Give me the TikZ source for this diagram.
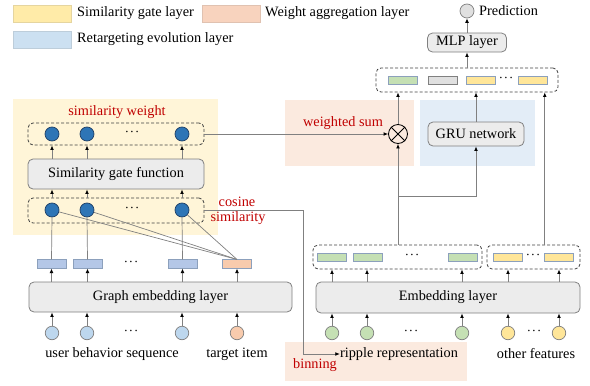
\documentclass[tikz,border=0pt]{standalone}
\usepackage{amsmath}
\usepackage{fontspec}
\setmainfont{Liberation Serif}
\usetikzlibrary{arrows.meta,calc}
\definecolor{lyel}{HTML}{FFEBA8}
\definecolor{lora}{HTML}{F8D3BE}
\definecolor{lblu}{HTML}{CCE0F1}
\definecolor{bgyel}{HTML}{FFF5D8}
\definecolor{bgora}{HTML}{FBEADF}
\definecolor{bgblu}{HTML}{E3EDF7}
\definecolor{redt}{HTML}{C00000}
\definecolor{lnc}{HTML}{808080}
\definecolor{dblue}{HTML}{2E75B6}
\definecolor{dbord}{HTML}{1F3F66}
\definecolor{cblue}{HTML}{BDD7EE}
\definecolor{corg}{HTML}{F8CBAD}
\definecolor{cgrn}{HTML}{C5E0B4}
\definecolor{cyel}{HTML}{FFE699}
\definecolor{rblue}{HTML}{B4C7E7}
\definecolor{rgray}{HTML}{E0E0E0}
\definecolor{boxf}{HTML}{ECECEC}
\definecolor{rbord}{HTML}{8CA0BC}
\newcommand\myfs{\fontsize{14.3pt}{16pt}\selectfont}
\newcommand\mydots{{\fontsize{10pt}{10pt}\selectfont$\boldsymbol{\cdots}$}}
\tikzset{
  every node/.style={font=\myfs},
  arr/.style={draw=lnc, line width=0.8pt, -{Latex[length=4.5pt,width=3.8pt,color=black]}},
  pl/.style={draw=lnc, line width=0.7pt},
  dbox/.style={draw=black!75, dashed, dash pattern=on 3pt off 2pt, rounded corners=5pt, line width=0.8pt, inner sep=0pt},
  gbox/.style={draw=lnc, fill=boxf, rounded corners=5pt, line width=0.8pt, inner sep=0pt},
  swatch/.style={fill=#1, draw=#1!80!gray, line width=0.4pt, minimum width=58pt, minimum height=17pt, inner sep=0pt},
  bg/.style={fill=#1, draw=none, inner sep=0pt},
  bc/.style={circle, fill=dblue, draw=dbord, line width=0.7pt, minimum size=14pt, inner sep=0pt},
  lc/.style={circle, fill=#1, draw=lnc, line width=0.7pt, minimum size=13.5pt, inner sep=0pt},
  rc/.style={rectangle, fill=#1, draw=rbord, line width=0.6pt, minimum width=29pt, minimum height=8.5pt, inner sep=0pt},
  redlab/.style={text=redt, inner sep=0pt},
  dots/.style={inner sep=0pt}
}
\begin{document}
\begin{tikzpicture}[x=1pt,y=-1pt]
\useasboundingbox (0,0) rectangle (590,386);
% legend
\node[swatch=lyel] (lgy) at (42,13.5) {};
\node[anchor=west, inner sep=0pt] (lgyt) at (77,13.5) {Similarity gate layer};
\node[swatch=lora] (lgo) at (231,13.5) {};
\node[anchor=west, inner sep=0pt] (lgot) at (265,13.5) {Weight aggregation layer};
\node[swatch=lblu] (lgb) at (42,39.5) {};
\node[anchor=west, inner sep=0pt] (lgbt) at (77,39.5) {Retargeting evolution layer};
% backgrounds
\node[bg=bgyel, minimum width=205pt, minimum height=136pt] (bgy) at (115.5,167) {};
\node[bg=bgora, minimum width=129pt, minimum height=66pt] (bgo) at (349.5,133) {};
\node[bg=bgblu, minimum width=115pt, minimum height=66pt] (bgb) at (477.5,133) {};
\node[bg=bgora, minimum width=182pt, minimum height=39pt] (bgbin) at (376,361.5) {};
% similarity gate
\node[redlab] (swl) at (117,112) {similarity weight};
\node[dbox, minimum width=176pt, minimum height=22pt] (sw) at (116,134) {};
\node[bc] (s1) at (52,134) {};
\node[bc] (s2) at (87,134) {};
\node[bc] (s3) at (182,134) {};
\node[dots] (sd) at (133,132) {\mydots};
\node[gbox, minimum width=176pt, minimum height=30pt] (gate) at (116,174) {Similarity gate function};
\node[dbox, minimum width=176pt, minimum height=25pt] (cs) at (116,210.5) {};
\node[bc] (c1) at (52,210) {};
\node[bc] (c2) at (87,210) {};
\node[bc] (c3) at (182,210) {};
\node[dots] (cd) at (133,208) {\mydots};
\node[redlab] (cosl1) at (237,202) {cosine};
\node[redlab] (cosl2) at (238,218) {similarity};
% graph embedding
\node[rc=rblue] (e1) at (51.5,264) {};
\node[rc=rblue] (e2) at (87.5,264) {};
\node[rc=rblue] (e3) at (182.5,264) {};
\node[rc=corg] (et) at (237,264) {};
\node[dots] (ed) at (132,262) {\mydots};
\node[gbox, minimum width=263pt, minimum height=30pt] (gel) at (160.5,297) {Graph embedding layer};
\node[lc=cblue] (u1) at (52,333) {};
\node[lc=cblue] (u2) at (87,333) {};
\node[lc=cblue] (u3) at (182,333) {};
\node[lc=corg] (tg) at (237,333) {};
\node[dots] (ud) at (132,331) {\mydots};
\node[inner sep=0pt] (ubs) at (112,354) {user behavior sequence};
\node[inner sep=0pt] (tit) at (237,354) {target item};
% embedding layer (right)
\node[gbox, minimum width=264pt, minimum height=31pt] (el) at (448,297.5) {Embedding layer};
\node[lc=cgrn] (g1) at (332,333) {};
\node[lc=cgrn] (g2) at (367,333) {};
\node[lc=cgrn] (g3) at (462,333) {};
\node[lc=cyel] (y1) at (508,333) {};
\node[lc=cyel] (y2) at (559,333) {};
\node[dots] (gd) at (412,331) {\mydots};
\node[dots] (yd) at (535,331) {\mydots};
\node[dbox, minimum width=169pt, minimum height=24pt] (eg) at (397.5,257) {};
\node[rc=cgrn] (r1) at (332,257.5) {};
\node[rc=cgrn] (r2) at (367.5,257.5) {};
\node[rc=cgrn] (r3) at (463,257.5) {};
\node[dots] (rd) at (413,255.5) {\mydots};
\node[dbox, minimum width=93pt, minimum height=24pt] (ey) at (533.5,257) {};
\node[rc=cyel] (q1) at (508,257.5) {};
\node[rc=cyel] (q2) at (559,257.5) {};
\node[dots] (qd) at (534,255.5) {\mydots};
\node[inner sep=0pt] (rip) at (399,354) {ripple representation};
\node[inner sep=0pt] (oth) at (536,354) {other features};
\node[redlab] (bin) at (315,365) {binning};
% middle
\node[circle, draw=black, line width=0.8pt, minimum size=19pt, inner sep=0pt] (ot) at (398,134) {};
\draw[line width=0.8pt] (ot.north east) -- (ot.south west) (ot.north west) -- (ot.south east);
\node[redlab] (wsl) at (343,123) {weighted sum};
\node[gbox, minimum width=96pt, minimum height=24pt] (gru) at (476,134) {GRU network};
% top
\node[dbox, minimum width=182pt, minimum height=24pt] (tb) at (467,80) {};
\node[rc=cgrn] (t1) at (402.5,80.5) {};
\node[rc=rgray, draw=gray] (t2) at (442.5,80.5) {};
\node[rc=cyel] (t3) at (481,80.5) {};
\node[dots] (td) at (507,78.5) {\mydots};
\node[rc=cyel] (t4) at (533,80.5) {};
\node[gbox, minimum width=79pt, minimum height=19pt] (mlp) at (467,42.5) {MLP layer};
\node[circle, fill=rgray, draw=lnc, line width=0.7pt, minimum size=14pt, inner sep=0pt] (pred) at (467,11) {};
\node[anchor=west, inner sep=0pt] (predt) at (479,11) {Prediction};
% connectors left
\foreach \n in {u1,u2,u3,tg} \draw[arr] (\n.north) -- (\n |- gel.south);
\foreach \n in {e1,e2,e3,et} \draw[arr] (\n |- gel.north) -- (\n.south);
\draw[pl] (e1.north) -- (c1.south);
\draw[pl] (e2.north) -- (c2.south);
\draw[pl] (e3.north) -- (c3.south);
\draw[pl] (et.north) -- (c1);
\draw[pl] (et.north) -- (c2);
\draw[pl] (et.north) -- (c3);
\foreach \n in {c1,c2,c3} \draw[arr] (\n |- cs.north) -- (\n |- gate.south);
\foreach \n in {s1,s2,s3} \draw[arr] (\n |- gate.north) -- (\n |- sw.south);
\draw[arr] (sw.east) -- (ot.west);
\coordinate (bk) at (303,210.5);
\draw[arr] (cs.east) -- (bk) |- (rip.west);
% connectors right
\foreach \n in {g1,g2,g3,y1,y2} \draw[arr] (\n.north) -- (\n |- el.south);
\foreach \n in {g1,g2,g3,y1,y2} \draw[arr] (\n |- el.north) -- (\n |- eg.south);
\draw[arr] (ot |- eg.north) -- (ot.south);
\coordinate (jn) at (398,196);
\draw[arr] (jn) -| (gru.south);
\draw[arr] (ot.north) -- (ot |- tb.south);
\draw[arr] (gru.north) -- (gru |- tb.south);
\coordinate (ryt) at ($(ey.north west)!0.62!(ey.north east)$);
\draw[arr] (ryt) -- (ryt |- tb.south);
\draw[arr] (mlp |- tb.north) -- (mlp.south);
\draw[arr] (mlp.north) -- (pred.south);
\end{tikzpicture}
\end{document}
